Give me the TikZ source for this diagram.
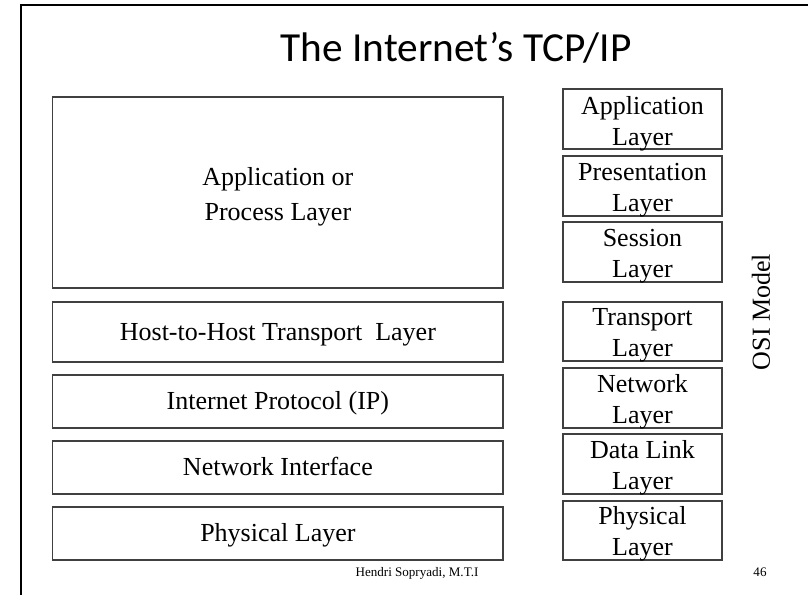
\documentclass[tikz,border=0pt]{standalone}
\usepackage{fontspec}
\setmainfont{Liberation Serif}
\newfontfamily\titlefont{Carlito}
\usepackage{tikz}

\begin{document}
\begin{tikzpicture}[x=0.75pt, y=-0.75pt,
    layer/.style={draw=black!75, line width=0.9pt},
    lbl/.style={font=\fontsize{19.5}{26.25}\selectfont, inner sep=0pt},
    osilbl/.style={font=\fontsize{19.5}{23.25}\selectfont, inner sep=0pt, align=center, anchor=north},
    small/.style={font=\fontsize{9.8}{11}\selectfont, inner sep=0pt, anchor=base}]
    \useasboundingbox (0,0) rectangle (808,595);

    % Marco de la diapositiva
    \draw[line width=1.5pt] (20.7,620) -- (20.7,4.7) -- (830,4.7);

    % Titulo
    \node[font=\titlefont\fontsize{31}{36}\selectfont, anchor=base, inner sep=0pt] (title) at (456,62) {The Internet’s TCP/IP};

    % Pila TCP/IP
    \draw[layer] (52.7,97) rectangle (503,288);
    \draw[layer] (52.7,302) rectangle (503,362);
    \draw[layer] (52.7,375) rectangle (503,428);
    \draw[layer] (52.7,441) rectangle (503,494);
    \draw[layer] (52.7,507) rectangle (503,560);
    \node[lbl, align=center, anchor=north] (process) at (277.9,167.3) {Application or\\Process Layer};
    \node[lbl, anchor=base] (host) at (277.9,340.5) {Host-to-Host Transport~~Layer};
    \node[lbl, anchor=base] (ip) at (277.9,410) {Internet Protocol (IP)};
    \node[lbl, anchor=base] (netif) at (277.9,476) {Network Interface};
    \node[lbl, anchor=base] (phys) at (277.9,542) {Physical Layer};

    % Modelo OSI
    \draw[layer] (563,89) rectangle (722,149);
    \draw[layer] (563,156) rectangle (722,216);
    \draw[layer] (563,222) rectangle (722,282);
    \draw[layer] (563,302) rectangle (722,361);
    \draw[layer] (563,368) rectangle (722,428);
    \draw[layer] (563,434) rectangle (722,494);
    \draw[layer] (563,501) rectangle (722,560);
    \node[osilbl] (osiapp) at (642.5,96.5) {Application\\Layer};
    \node[osilbl] (osipres) at (642.5,163) {Presentation\\Layer};
    \node[osilbl] (osises) at (642.5,229) {Session\\Layer};
    \node[osilbl] (ositrans) at (642.5,308.5) {Transport\\Layer};
    \node[osilbl] (osinet) at (642.5,374.5) {Network\\Layer};
    \node[osilbl] (osidl) at (642.5,440.5) {Data Link\\Layer};
    \node[osilbl] (osiphys) at (642.5,506) {Physical\\Layer};
    \node[lbl, rotate=90] (osi) at (761,312) {OSI Model};

    % Pie de pagina
    \node[small] (author) at (417,577) {Hendri Sopryadi, M.T.I};
    \node[small] (page) at (760,577) {46};
\end{tikzpicture}
\end{document}
